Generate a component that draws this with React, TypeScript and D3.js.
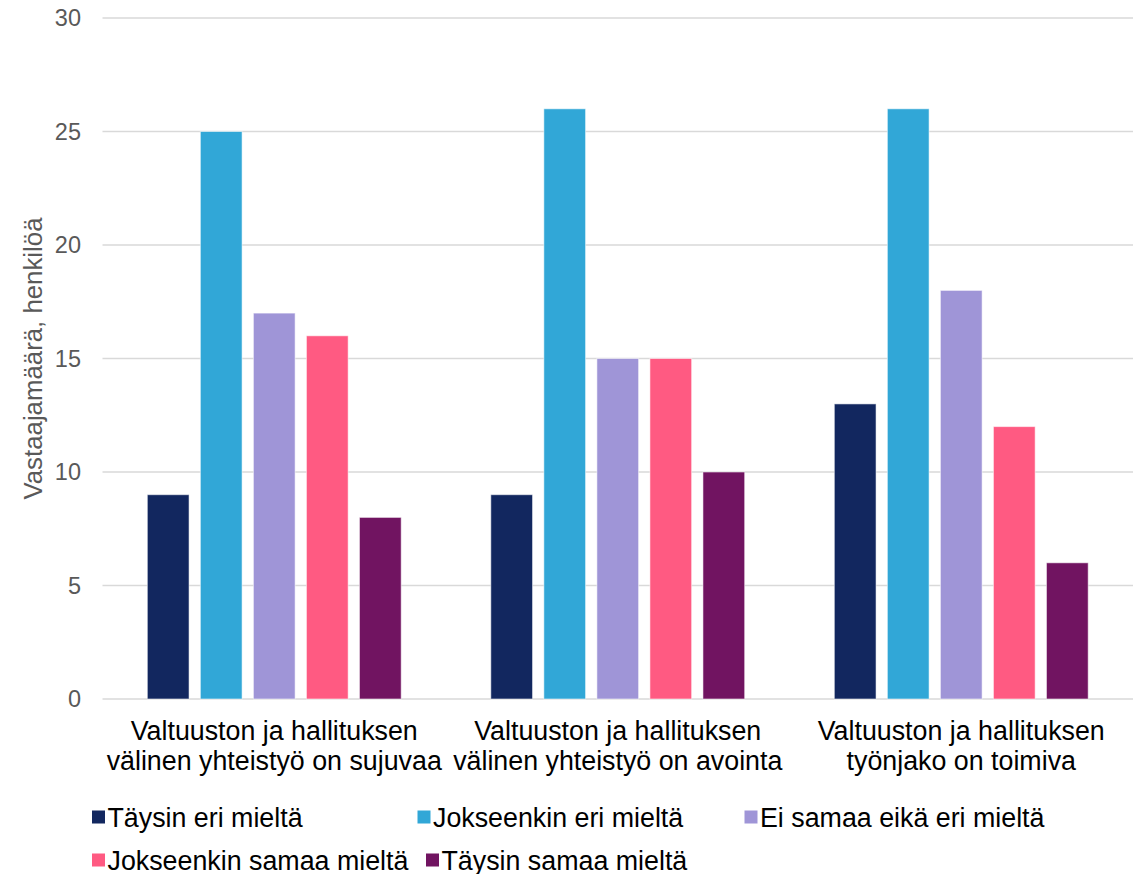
import * as d3 from 'd3';

const categories = [
  ['Valtuuston ja hallituksen', 'välinen yhteistyö on sujuvaa'],
  ['Valtuuston ja hallituksen', 'välinen yhteistyö on avointa'],
  ['Valtuuston ja hallituksen', 'työnjako on toimiva'],
];
const seriesNames = [
  'Täysin eri mieltä',
  'Jokseenkin eri mieltä',
  'Ei samaa eikä eri mieltä',
  'Jokseenkin samaa mieltä',
  'Täysin samaa mieltä',
];
const seriesColors = ['#12275f', '#31a7d7', '#9f95d7', '#ff5a82', '#711461'];
// values[series][category]
const taysinEri = [9, 9, 13];
const jokseenkinEri = [25, 26, 26];
const eiSamaaEikaEri = [17, 15, 18];
const jokseenkinSamaa = [16, 15, 12];
const taysinSamaa = [8, 10, 6];
const values = [taysinEri, jokseenkinEri, eiSamaaEikaEri, jokseenkinSamaa, taysinSamaa];
const yTicks = [0, 5, 10, 15, 20, 25, 30];
const yTitle = 'Vastaajamäärä, henkilöä';

const W = 1140;
const H = 874;
const left = 102.5;
const right = 1133;
const top = 18;
const bottom = 699;
const font = '"Liberation Sans", Arial, sans-serif';

// legend layout: [row, x of swatch]
const legendPos: [number, number][] = [
  [0, 92],
  [0, 417.5],
  [0, 744.5],
  [1, 92],
  [1, 426],
];

export default function App() {
  const x0 = d3
    .scaleBand<number>()
    .domain(d3.range(categories.length))
    .range([left, right])
    .padding(0);
  const x1 = d3
    .scaleBand<number>()
    .domain(d3.range(seriesNames.length))
    .range([0, x0.bandwidth()])
    .paddingInner(0.213)
    .paddingOuter(0.845);
  const y = d3.scaleLinear().domain([0, 30]).range([bottom, top]);

  return (
    <svg
      width={W}
      height={H}
      style={{ position: 'absolute', left: 0, top: 0, background: '#fff' }}
      fontFamily={font}
    >
      {/* grid */}
      <g stroke='#d9d9d9' strokeWidth={1.5}>
        {yTicks.map((t) => (
          <line key={t} x1={left} x2={right} y1={y(t)} y2={y(t)} />
        ))}
      </g>
      <g fill='#595959' fontSize={23.5} textAnchor='end'>
        {yTicks.map((t) => (
          <text key={t} x={81} y={y(t)} dy='0.36em'>
            {t}
          </text>
        ))}
      </g>
      <text
        transform={`translate(41.5,${(top + bottom) / 2}) rotate(-90)`}
        textAnchor='middle'
        fill='#595959'
        fontSize={25.8}
      >
        {yTitle}
      </text>

      {/* bars */}
      {values.map((ser, si) => (
        <g key={si} fill={seriesColors[si]} stroke='#ffffff' strokeOpacity={0.55} strokeWidth={1}>
          {ser.map((v, ci) => (
            <rect
              key={ci}
              x={(x0(ci) ?? 0) + (x1(si) ?? 0)}
              y={y(v)}
              width={x1.bandwidth()}
              height={y(0) - y(v)}
            />
          ))}
        </g>
      ))}

      {/* category labels */}
      <g fill='#000' fontSize={26.8} textAnchor='middle'>
        {categories.map((lines, ci) => (
          <text key={ci} x={(x0(ci) ?? 0) + x0.bandwidth() / 2} y={740}>
            {lines.map((l, li) => (
              <tspan key={li} x={(x0(ci) ?? 0) + x0.bandwidth() / 2} dy={li === 0 ? 0 : 29.5}>
                {l}
              </tspan>
            ))}
          </text>
        ))}
      </g>

      {/* legend */}
      <g fontSize={26.8} fill='#000'>
        {seriesNames.map((name, i) => {
          const [row, lx] = legendPos[i];
          const cy = 817 + row * 43;
          return (
            <g key={name}>
              <rect x={lx} y={cy - 6.5} width={13} height={13} fill={seriesColors[i]} />
              <text x={lx + 15.5} y={cy + 9.5}>
                {name}
              </text>
            </g>
          );
        })}
      </g>
    </svg>
  );
}
